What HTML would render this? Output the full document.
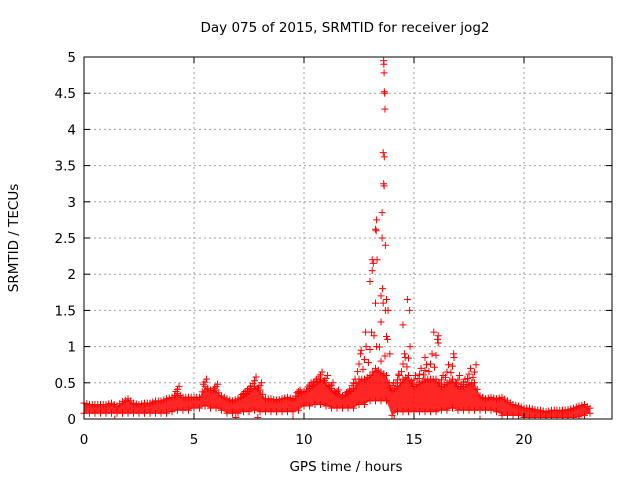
<!DOCTYPE html>
<html><head><meta charset="utf-8"><style>
body{margin:0;background:#fff;}
svg{display:block;font-family:"DejaVu Sans","Liberation Sans",sans-serif;}
</style></head><body>
<svg id="chart" width="640" height="480" xmlns="http://www.w3.org/2000/svg">
<rect width="640" height="480" fill="#fff"/>
<text x="345" y="32" font-size="13.5" text-anchor="middle">Day 075 of 2015, SRMTID for receiver jog2</text>
<text x="346" y="471" font-size="13.5" text-anchor="middle">GPS time / hours</text>
<text transform="translate(18,238) rotate(-90)" font-size="13.5" text-anchor="middle">SRMTID / TECUs</text>
<g id="grid"></g><g id="marks"></g><g id="axes"></g>
</svg>
<script>
const xTicks=[0,5,10,15,20];
const yTicks=[0,0.5,1,1.5,2,2.5,3,3.5,4,4.5,5];
const yTickLabels=["0","0.5","1","1.5","2","2.5","3","3.5","4","4.5","5"];
const bandTimes=[0,0.25,0.5,0.75,1,1.25,1.5,1.75,2,2.25,2.5,2.75,3,3.25,3.5,3.75,4,4.25,4.5,4.75,5,5.25,5.5,5.75,6,6.25,6.5,6.75,7,7.25,7.5,7.75,8,8.25,8.5,8.75,9,9.25,9.5,9.75,10,10.25,10.5,10.75,11,11.25,11.5,11.75,12,12.25,12.5,12.75,13,13.25,13.5,13.75,14,14.25,14.5,14.75,15,15.25,15.5,15.75,16,16.25,16.5,16.75,17,17.25,17.5,17.75,18,18.25,18.5,18.75,19,19.25,19.5,19.75,20,20.25,20.5,20.75,21,21.25,21.5,21.75,22,22.25,22.5,22.75,23];
const bandHigh=[0.22,0.2,0.2,0.2,0.2,0.22,0.18,0.24,0.3,0.22,0.2,0.22,0.22,0.25,0.25,0.28,0.3,0.45,0.3,0.3,0.32,0.3,0.55,0.45,0.48,0.35,0.3,0.25,0.3,0.38,0.45,0.58,0.5,0.3,0.3,0.28,0.3,0.35,0.3,0.4,0.42,0.5,0.55,0.65,0.6,0.5,0.4,0.35,0.4,0.55,0.9,1.0,1.2,2.2,1.8,1.5,0.5,0.6,0.9,1.0,0.6,0.7,0.75,0.9,1.1,0.6,0.75,0.85,0.6,0.55,0.7,0.75,0.35,0.3,0.35,0.3,0.3,0.25,0.2,0.18,0.15,0.15,0.13,0.12,0.1,0.12,0.12,0.12,0.13,0.15,0.18,0.2,0.15];
const coreHigh=[0.22,0.2,0.2,0.2,0.2,0.22,0.18,0.24,0.28,0.22,0.2,0.22,0.22,0.25,0.25,0.28,0.3,0.35,0.3,0.3,0.3,0.3,0.45,0.4,0.4,0.32,0.28,0.25,0.28,0.32,0.38,0.45,0.4,0.28,0.28,0.26,0.28,0.3,0.28,0.35,0.38,0.42,0.48,0.55,0.5,0.42,0.35,0.32,0.35,0.42,0.55,0.55,0.6,0.7,0.65,0.6,0.4,0.45,0.55,0.6,0.45,0.5,0.55,0.55,0.55,0.45,0.5,0.55,0.45,0.45,0.5,0.5,0.32,0.28,0.3,0.28,0.3,0.25,0.2,0.18,0.15,0.15,0.13,0.12,0.1,0.12,0.12,0.12,0.13,0.15,0.18,0.2,0.15];
const bandLow=[0.08,0.08,0.08,0.08,0.08,0.08,0.08,0.08,0.08,0.08,0.08,0.08,0.08,0.08,0.08,0.08,0.1,0.12,0.12,0.12,0.15,0.15,0.18,0.15,0.15,0.12,0.08,0.08,0.08,0.1,0.1,0.12,0.1,0.1,0.1,0.1,0.1,0.1,0.1,0.12,0.18,0.18,0.2,0.2,0.18,0.15,0.15,0.15,0.15,0.15,0.2,0.2,0.25,0.25,0.25,0.25,0.05,0.1,0.1,0.1,0.1,0.1,0.1,0.1,0.1,0.12,0.12,0.15,0.12,0.12,0.12,0.12,0.12,0.12,0.12,0.1,0.05,0.05,0.05,0.05,0.02,0.02,0.02,0.02,0.02,0.02,0.02,0.02,0.02,0.02,0.03,0.05,0.08];
const spikeTimes=[13.62,13.63,13.64,13.65,13.67,13.68,13.6,13.65,13.62,13.64,13.55,13.3,13.28,13.25,13.55,13.7,13.1,13.15,13.1,13.0,13.5,13.6,13.75,13.7,14.5,14.7,14.8,15.9,16.1,16.1,13.8,13.3,13.5,14.3,9.5,14.1,18,1.4,6.9,7.9,12.8,12.6,13.9,14.6,15.5,16.8];
const spikeValues=[4.95,4.9,4.78,4.52,4.5,4.28,3.68,3.62,3.25,3.22,2.85,2.75,2.6,2.62,2.5,2.4,2.2,2.15,2.05,1.9,1.7,1.6,1.65,1.5,1.3,1.65,1.5,1.2,1.15,1.05,1.1,1.0,0.8,0.62,0.0,0.0,0.0,0.0,0.02,0.02,1.2,0.95,0.9,0.85,0.85,0.9];
const X0=84,X1=612,Y0=419,Y1=57,XMAX=24,YMAX=5;
function xs(t){return X0+(X1-X0)*t/XMAX;}
function ys(v){return Y0-(Y0-Y1)*v/YMAX;}
const NS="http://www.w3.org/2000/svg";
const grid=document.getElementById('grid'),marks=document.getElementById('marks'),axes=document.getElementById('axes');
function mk(tag,attrs,parent){const e=document.createElementNS(NS,tag);for(const k in attrs)e.setAttribute(k,attrs[k]);parent.appendChild(e);return e;}
yTicks.forEach((v,i)=>{
 if(i>0&&i<yTicks.length-1){const g=mk('line',{x1:X0,x2:X1,y1:ys(v),y2:ys(v),stroke:'#a0a0a0','stroke-dasharray':'2,3'},grid);
 
 }
 mk('line',{x1:X0,x2:X0+6,y1:ys(v),y2:ys(v),stroke:'#000'},axes);
 mk('line',{x1:X1,x2:X1-6,y1:ys(v),y2:ys(v),stroke:'#000'},axes);
 const t=mk('text',{x:X0-8,y:ys(v)+5,'font-size':13.5,'text-anchor':'end'},axes);
 t.textContent=yTickLabels[i];
 
 
});
xTicks.forEach(v=>{
 if(v>0){const g=mk('line',{x1:xs(v),x2:xs(v),y1:Y0,y2:Y1,stroke:'#a0a0a0','stroke-dasharray':'2,3'},grid);
 
 }
 mk('line',{x1:xs(v),x2:xs(v),y1:Y0,y2:Y0-6,stroke:'#000'},axes);
 mk('line',{x1:xs(v),x2:xs(v),y1:Y1,y2:Y1+6,stroke:'#000'},axes);
 const t=mk('text',{x:xs(v),y:Y0+25,'font-size':13.5,'text-anchor':'middle'},axes);
 t.textContent=String(v);
 
 
});
const frame=mk('rect',{x:X0,y:Y1,width:X1-X0,height:Y0-Y1,fill:'none',stroke:'#000'},axes);


let pts=bandTimes.map((t,i)=>xs(t)+','+ys(coreHigh[i]));
for(let i=bandTimes.length-1;i>=0;i--)pts.push(xs(bandTimes[i])+','+ys(bandLow[i]));
const band=mk('polygon',{points:pts.join(' '),fill:'#ff0000','fill-opacity':0.85},marks);


function plus(t,v){
 const x=xs(t),y=Math.min(ys(v),Y0);
 const p=mk('path',{d:`M${x-3.5},${y}H${x+3.5}M${x},${y-3.5}V${Math.min(y+3.5,Y0)}`,stroke:'#ff0000','stroke-width':1},marks);
 
 
}
bandTimes.forEach((t,i)=>{
 plus(t,bandLow[i]);plus(t,coreHigh[i]);
 const extra=bandHigh[i]-coreHigh[i];
 if(extra>0.05){
  [0.3,0.6,1].forEach((f,k)=>plus(t+(k-1)*0.07,coreHigh[i]+extra*f));
 }
 if(i<bandTimes.length-1){plus(t+0.125,(coreHigh[i]+coreHigh[i+1])/2);}
});
spikeTimes.forEach((t,i)=>plus(t,spikeValues[i]));
</script>
</body></html>
